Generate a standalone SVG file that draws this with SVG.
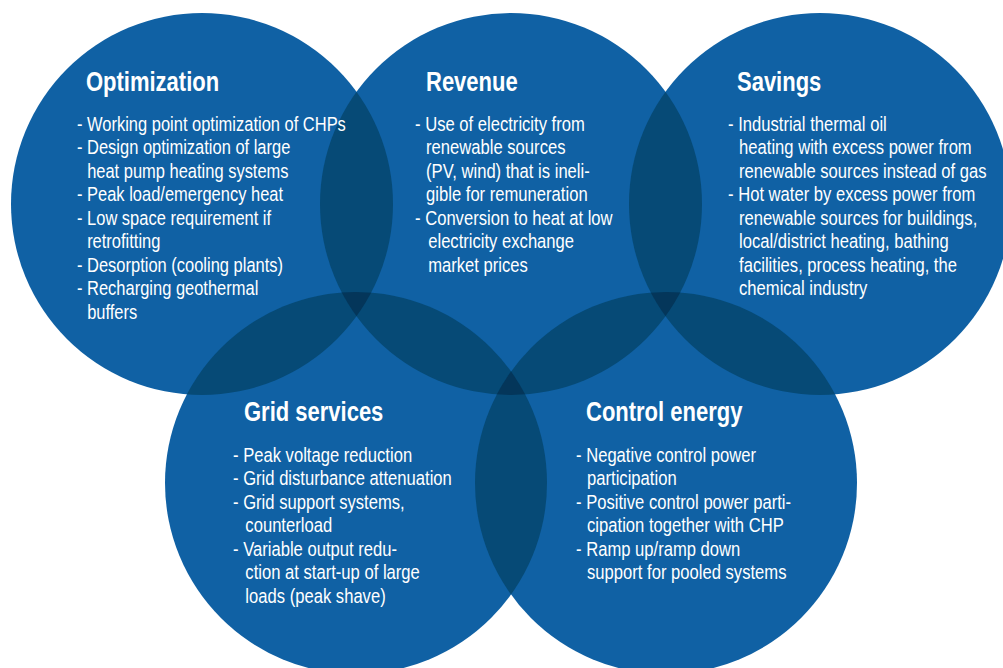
<svg xmlns="http://www.w3.org/2000/svg" width="1003" height="668" viewBox="0 0 1003 668">
  <defs>
    <clipPath id="clip-opt"><circle cx="202" cy="204" r="191"/></clipPath>
    <clipPath id="clip-rev"><circle cx="511" cy="204" r="191"/></clipPath>
    <clipPath id="clip-sav"><circle cx="820" cy="204" r="191"/></clipPath>
    <clipPath id="clip-grid"><circle cx="356" cy="483" r="191"/></clipPath>
    <clipPath id="clip-ctrl"><circle cx="666" cy="483" r="191"/></clipPath>
  </defs>
  <style>
    .disc { fill: #1061a4; }
    .lens { fill: #064a76; }
    .core { fill: #04365a; }
    text { fill: #ffffff; font-family: "Liberation Sans Narrow", "Liberation Sans", Arial, sans-serif; }
    .title { font-size: 27px; font-weight: bold; }
    .item { font-size: 19.5px; }
  </style>
  <rect width="1003" height="668" fill="#ffffff"/>

  <!-- base discs -->
  <g id="discs">
    <circle id="disc-optimization" class="disc" cx="202" cy="204" r="191"/>
    <circle id="disc-revenue" class="disc" cx="511" cy="204" r="191"/>
    <circle id="disc-savings" class="disc" cx="820" cy="204" r="191"/>
    <circle id="disc-grid" class="disc" cx="356" cy="483" r="191"/>
    <circle id="disc-control" class="disc" cx="666" cy="483" r="191"/>
  </g>

  <!-- pairwise overlaps, then triple overlaps -->
  <g id="overlaps">
    <circle class="lens" cx="511" cy="204" r="191" clip-path="url(#clip-opt)"/>
    <circle class="lens" cx="820" cy="204" r="191" clip-path="url(#clip-rev)"/>
    <circle class="lens" cx="356" cy="483" r="191" clip-path="url(#clip-opt)"/>
    <circle class="lens" cx="356" cy="483" r="191" clip-path="url(#clip-rev)"/>
    <circle class="lens" cx="666" cy="483" r="191" clip-path="url(#clip-rev)"/>
    <circle class="lens" cx="666" cy="483" r="191" clip-path="url(#clip-sav)"/>
    <circle class="lens" cx="666" cy="483" r="191" clip-path="url(#clip-grid)"/>
    <g clip-path="url(#clip-opt)"><circle class="core" cx="356" cy="483" r="191" clip-path="url(#clip-rev)"/></g>
    <g clip-path="url(#clip-grid)"><circle class="core" cx="666" cy="483" r="191" clip-path="url(#clip-rev)"/></g>
    <g clip-path="url(#clip-sav)"><circle class="core" cx="666" cy="483" r="191" clip-path="url(#clip-rev)"/></g>
  </g>

  <!-- text is horizontally condensed to a narrow grotesque width -->
  <g id="optimization">
    <text class="title" transform="translate(86 0) scale(0.815 1)" x="0" y="91">Optimization</text>
    <g transform="translate(77 0) scale(0.845 1)">
      <text class="item" x="0" y="131">- Working point optimization of CHPs</text>
      <text class="item" x="0" y="154.5">- Design optimization of large</text>
      <text class="item" x="12" y="178">heat pump heating systems</text>
      <text class="item" x="0" y="201.5">- Peak load/emergency heat</text>
      <text class="item" x="0" y="225">- Low space requirement if</text>
      <text class="item" x="12" y="248.5">retrofitting</text>
      <text class="item" x="0" y="272">- Desorption (cooling plants)</text>
      <text class="item" x="0" y="295.5">- Recharging geothermal</text>
      <text class="item" x="12" y="319">buffers</text>
    </g>
  </g>

  <g id="revenue">
    <text class="title" transform="translate(426 0) scale(0.815 1)" x="0" y="91">Revenue</text>
    <g transform="translate(415 0) scale(0.852 1)">
      <text class="item" x="0" y="131">- Use of electricity from</text>
      <text class="item" x="13" y="154.5">renewable sources</text>
      <text class="item" x="13" y="178">(PV, wind) that is ineli-</text>
      <text class="item" x="13" y="201.5">gible for remuneration</text>
      <text class="item" x="0" y="225">- Conversion to heat at low</text>
      <text class="item" x="15.5" y="248.5">electricity exchange</text>
      <text class="item" x="15.5" y="272">market prices</text>
    </g>
  </g>

  <g id="savings">
    <text class="title" transform="translate(737 0) scale(0.815 1)" x="0" y="91">Savings</text>
    <g transform="translate(728 0) scale(0.852 1)">
      <text class="item" x="0" y="131">- Industrial thermal oil</text>
      <text class="item" x="13" y="154.5">heating with excess power from</text>
      <text class="item" x="13" y="178">renewable sources instead of gas</text>
      <text class="item" x="0" y="201.5">- Hot water by excess power from</text>
      <text class="item" x="13" y="225">renewable sources for buildings,</text>
      <text class="item" x="13" y="248.5">local/district heating, bathing</text>
      <text class="item" x="13" y="272">facilities, process heating, the</text>
      <text class="item" x="13" y="295.5">chemical industry</text>
    </g>
  </g>

  <g id="grid-services">
    <text class="title" transform="translate(244 0) scale(0.815 1)" x="0" y="421">Grid services</text>
    <g transform="translate(233 0) scale(0.852 1)">
      <text class="item" x="0" y="462">- Peak voltage reduction</text>
      <text class="item" x="0" y="485.5">- Grid disturbance attenuation</text>
      <text class="item" x="0" y="509">- Grid support systems,</text>
      <text class="item" x="14.5" y="532.5">counterload</text>
      <text class="item" x="0" y="556">- Variable output redu-</text>
      <text class="item" x="14.5" y="579.5">ction at start-up of large</text>
      <text class="item" x="14.5" y="603">loads (peak shave)</text>
    </g>
  </g>

  <g id="control-energy">
    <text class="title" transform="translate(586 0) scale(0.815 1)" x="0" y="421">Control energy</text>
    <g transform="translate(576 0) scale(0.852 1)">
      <text class="item" x="0" y="462">- Negative control power</text>
      <text class="item" x="13" y="485.5">participation</text>
      <text class="item" x="0" y="509">- Positive control power parti-</text>
      <text class="item" x="13" y="532.5">cipation together with CHP</text>
      <text class="item" x="0" y="556">- Ramp up/ramp down</text>
      <text class="item" x="13" y="579.5">support for pooled systems</text>
    </g>
  </g>
</svg>
